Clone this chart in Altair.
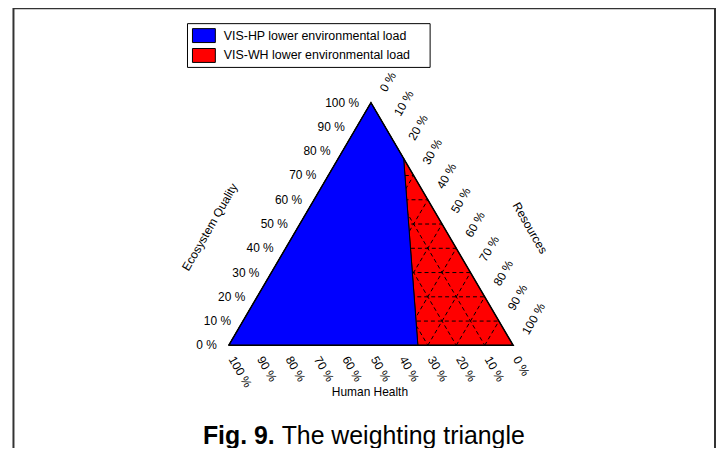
import math
import altair as alt
import pandas as pd

# ---------------- data ----------------
series = ["VIS-HP lower environmental load", "VIS-WH lower environmental load"]
series_colors = ["#0000ff", "#ff0000"]

# ternary points as (Human Health, Ecosystem Quality, Resources) fractions
corner_hh = (1.0, 0.0, 0.0)
corner_eq = (0.0, 1.0, 0.0)
corner_r = (0.0, 0.0, 1.0)
boundary_top = (0.0, 0.77, 0.23)       # on the EQ-R edge
boundary_bottom = (0.335, 0.0, 0.665)  # on the HH-R edge

blue_vertices = [corner_hh, corner_eq, boundary_top, boundary_bottom]
red_vertices = [boundary_top, corner_r, boundary_bottom]

tick_values = [0, 10, 20, 30, 40, 50, 60, 70, 80, 90, 100]
tick_labels = ["0 %", "10 %", "20 %", "30 %", "40 %", "50 %", "60 %", "70 %", "80 %", "90 %", "100 %"]
grid_values = [10, 20, 30, 40, 50, 60, 70, 80, 90]

axis_titles = ["Ecosystem Quality", "Resources", "Human Health"]
caption_bold = "Fig. 9."
caption_text = "The weighting triangle"

FONT = "Liberation Sans"


def to_xy(p):
    hh, eq, r = p
    return r + eq / 2.0, eq


def rot_offset(ox, oy, angle):
    t = math.radians(angle)
    return ox * math.cos(t) + oy * math.sin(t), -ox * math.sin(t) + oy * math.cos(t)


# polygons
poly_rows = []
for name, verts in zip(series, [blue_vertices, red_vertices]):
    for i, v in enumerate(verts + [verts[0]]):
        x, y = to_xy(v)
        poly_rows.append({"series": name, "order": i, "x": x, "y": y})
poly_df = pd.DataFrame(poly_rows)
blue_df = poly_df[poly_df.series == series[0]]

outline_rows = []
for i, v in enumerate([corner_hh, corner_eq, corner_r, corner_hh]):
    x, y = to_xy(v)
    outline_rows.append({"order": i, "x": x, "y": y})
outline_df = pd.DataFrame(outline_rows)

# grid lines (dashed)
grid_rows = []
for g in grid_values:
    k = g / 100.0
    segs = [
        ((1 - k, k, 0.0), (0.0, k, 1 - k)),   # constant EQ
        ((k, 1 - k, 0.0), (k, 0.0, 1 - k)),   # constant HH
        ((1 - k, 0.0, k), (0.0, 1 - k, k)),   # constant R
    ]
    for j, (a, b) in enumerate(segs):
        for o, p in enumerate([a, b]):
            x, y = to_xy(p)
            grid_rows.append({"seg": f"{g}-{j}", "order": o, "x": x, "y": y})
grid_df = pd.DataFrame(grid_rows)

# tick labels
left_df = pd.DataFrame([{"label": lab, "x": to_xy((1 - v / 100, v / 100, 0))[0], "y": v / 100}
                        for v, lab in zip(tick_values, tick_labels)])
right_df = pd.DataFrame([{"label": lab, "x": to_xy((0, 1 - v / 100, v / 100))[0], "y": 1 - v / 100}
                         for v, lab in zip(tick_values, tick_labels)])
bottom_df = pd.DataFrame([{"label": lab, "x": to_xy((v / 100, 0, 1 - v / 100))[0], "y": 0.0}
                          for v, lab in zip(tick_values, tick_labels)])

# ---------------- scales ----------------
W, H = 712, 440
xs = alt.Scale(domain=[-222 / 286, (W - 222) / 286], range=[0, W], nice=False, zero=False)
ys = alt.Scale(domain=[-(H - 338) / 244, 338 / 244], range=[H, 0], nice=False, zero=False)
X = lambda: alt.X("x:Q", scale=xs, axis=None)
Y = lambda: alt.Y("y:Q", scale=ys, axis=None)

one = pd.DataFrame({"a": [0]})

frame = alt.Chart(one).mark_rect(fill="white", stroke="#333333", strokeWidth=2).encode(
    x=alt.value(5.5), x2=alt.value(711), y=alt.value(-1), y2=alt.value(480)
)

polys = alt.Chart(poly_df).mark_line(stroke="black", strokeWidth=1).encode(
    x=X(), y=Y(), order="order:Q", detail="series:N",
    fill=alt.Fill("series:N", scale=alt.Scale(domain=series, range=series_colors), legend=None),
)

grid = alt.Chart(grid_df).mark_line(stroke="black", strokeWidth=1, strokeDash=[4, 3]).encode(
    x=X(), y=Y(), order="order:Q", detail="seg:N"
)

blue_top = alt.Chart(blue_df).mark_line(stroke="black", strokeWidth=1, fill=series_colors[0]).encode(
    x=X(), y=Y(), order="order:Q"
)

outline = alt.Chart(outline_df).mark_line(stroke="black", strokeWidth=1.5).encode(
    x=X(), y=Y(), order="order:Q"
)

left_lab = alt.Chart(left_df).mark_text(font=FONT, fontSize=12, align="right", baseline="middle",
                                         dx=-12, color="black").encode(x=X(), y=Y(), text="label:N")
rdx, rdy = rot_offset(12, -12, 300)
right_lab = alt.Chart(right_df).mark_text(font=FONT, fontSize=12, align="left", baseline="middle",
                                          angle=300, dx=rdx, dy=rdy, color="black").encode(
    x=X(), y=Y(), text="label:N")
bdx, bdy = rot_offset(3, 12, 60)
bottom_lab = alt.Chart(bottom_df).mark_text(font=FONT, fontSize=12, align="left", baseline="middle",
                                            angle=60, dx=bdx, dy=bdy, color="black").encode(
    x=X(), y=Y(), text="label:N")

# axis titles anchored at edge midpoints
t_left = pd.DataFrame([{"t": axis_titles[0], "x": to_xy((0.5, 0.5, 0))[0], "y": 0.5}])
t_right = pd.DataFrame([{"t": axis_titles[1], "x": to_xy((0, 0.5, 0.5))[0], "y": 0.5}])
t_bottom = pd.DataFrame([{"t": axis_titles[2], "x": to_xy((0.5, 0, 0.5))[0], "y": 0.0}])
ldx, ldy = rot_offset(-90.5, 3, 300)
title_left = alt.Chart(t_left).mark_text(font=FONT, fontSize=12, angle=300, align="center", baseline="middle",
                                         dx=ldx, dy=ldy, color="black").encode(x=X(), y=Y(), text="t:N")
tdx, tdy = rot_offset(88.5, 4, 60)
title_right = alt.Chart(t_right).mark_text(font=FONT, fontSize=12, angle=60, align="center", baseline="middle",
                                           dx=tdx, dy=tdy, color="black").encode(x=X(), y=Y(), text="t:N")
title_bottom = alt.Chart(t_bottom).mark_text(font=FONT, fontSize=12, align="center", baseline="middle",
                                             dx=-1, dy=47, color="black").encode(x=X(), y=Y(), text="t:N")

# legend (drawn manually)
legend_layers = [
    alt.Chart(one).mark_rect(fill="white", stroke="black", strokeWidth=1).encode(
        x=alt.value(180.5), x2=alt.value(424.5), y=alt.value(14.5), y2=alt.value(58.5))
]
for i, (name, col) in enumerate(zip(series, series_colors)):
    y0 = 19 + 20 * i
    legend_layers.append(alt.Chart(one).mark_rect(fill=col, stroke="black", strokeWidth=1).encode(
        x=alt.value(185.5), x2=alt.value(208.5), y=alt.value(y0 + 0.5), y2=alt.value(y0 + 14.5)))
    legend_layers.append(alt.Chart(pd.DataFrame({"t": [name]})).mark_text(
        font=FONT, fontSize=12.5, align="left", baseline="middle", color="black").encode(
        x=alt.value(217), y=alt.value(y0 + 7.5), text="t:N"))

CAP = 25
cap1 = alt.Chart(pd.DataFrame({"t": [caption_bold]})).mark_text(
    font=FONT, fontSize=CAP, fontWeight="bold", align="left", baseline="alphabetic", color="black").encode(
    x=alt.value(196), y=alt.value(437), text="t:N")
cap2 = alt.Chart(pd.DataFrame({"t": [caption_text]})).mark_text(
    font=FONT, fontSize=CAP, align="left", baseline="alphabetic", color="black").encode(
    x=alt.value(196 + 3.168 * CAP), y=alt.value(437), text="t:N")

chart = alt.layer(
    frame, polys, grid, blue_top, outline,
    left_lab, right_lab, bottom_lab, title_left, title_right, title_bottom,
    *legend_layers, cap1, cap2
).properties(
    width=W, height=H, padding=0, autosize=alt.AutoSizeParams(type="none")
).configure_view(stroke=None)

chart.save("out.html", embed_options={"renderer": "svg", "actions": False})
